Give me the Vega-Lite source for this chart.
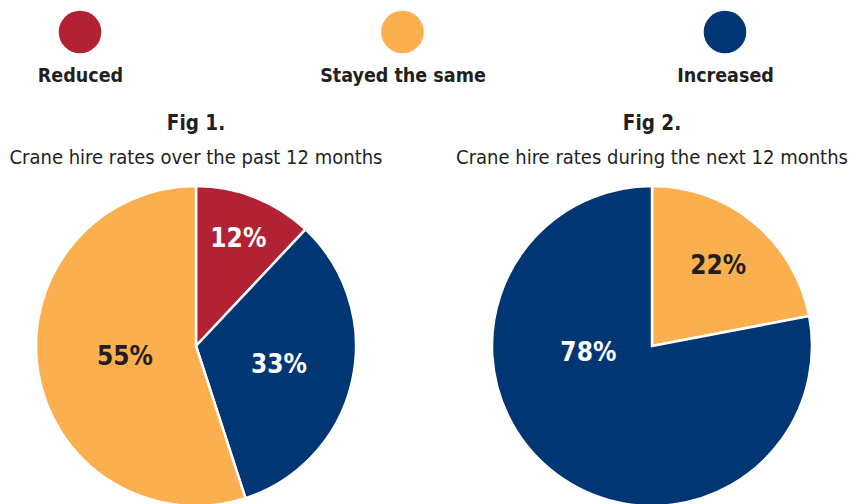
{
  "$schema": "https://vega.github.io/schema/vega-lite/v6.json",
  "padding": {"left": 5, "top": 5, "right": 5, "bottom": 0},
  "background": "white",
  "config": {
    "view": {"stroke": null},
    "font": "Liberation Sans Narrow, DejaVu Sans Condensed, Roboto Condensed, Roboto, sans-serif",
    "title": {"anchor": "middle", "font": "Liberation Sans Narrow, DejaVu Sans Condensed, Roboto Condensed, Roboto, sans-serif", "subtitleFont": "Liberation Sans Narrow, DejaVu Sans Condensed, Roboto Condensed, Roboto, sans-serif", "fontSize": 20.5, "fontWeight": "bold", "color": "#231f20", "subtitleFontSize": 20, "subtitleColor": "#231f20", "subtitlePadding": 14, "offset": 13, "limit": 0}
  },
  "datasets": {
    "legend": [{"k": "Reduced"}, {"k": "Stayed the same"}, {"k": "Increased"}],
    "fig1": [
      {"k": "Reduced", "v": 12, "o": 1, "lbl": "12%"},
      {"k": "Increased", "v": 33, "o": 2, "lbl": "33%"},
      {"k": "Stayed the same", "v": 55, "o": 3, "lbl": "55%"}
    ],
    "fig2": [
      {"k": "Stayed the same", "v": 22, "o": 1, "lbl": "22%"},
      {"k": "Increased", "v": 78, "o": 2, "lbl": "78%"}
    ]
  },
  "vconcat": [
    {
      "width": 795,
      "height": 54,
      "data": {"name": "legend"},
      "mark": {"type": "point", "filled": true, "opacity": 1, "size": 1810, "shape": "circle"},
      "encoding": {
        "x": {"field": "k", "type": "nominal", "sort": null, "scale": {"type": "point", "padding": 0.2326},
          "axis": {"title": null, "domain": false, "ticks": false, "labelFontSize": 19.5, "labelFontWeight": "bold", "labelColor": "#231f20", "labelPadding": 7, "labelAngle": 0, "labelLimit": 400, "labelOverlap": false, "labelFont": "Liberation Sans Narrow, DejaVu Sans Condensed, Roboto Condensed, Roboto, sans-serif"}},
        "color": {"field": "k", "type": "nominal", "scale": {"domain": ["Reduced", "Stayed the same", "Increased"], "range": ["#B22234", "#FBAF4F", "#003673"]}, "legend": null}
      }
    },
    {
      "spacing": 74,
      "bounds": "flush",
      "hconcat": [
        {
          "width": 382,
          "height": 318,
          "title": {"text": "Fig 1.", "subtitle": "Crane hire rates over the past 12 months"},
          "data": {"name": "fig1"},
          "layer": [
            {
              "mark": {"type": "arc", "outerRadius": 160, "stroke": "white", "strokeWidth": 2.5},
              "encoding": {
                "theta": {"field": "v", "type": "quantitative", "stack": true},
                "order": {"field": "o", "type": "quantitative"},
                "color": {"field": "k", "type": "nominal", "scale": {"domain": ["Reduced", "Stayed the same", "Increased"], "range": ["#B22234", "#FBAF4F", "#003673"]}, "legend": null}
              }
            },
            {
              "mark": {"type": "text", "fontSize": 26, "fontWeight": "bold"},
              "encoding": {
                "theta": {"field": "v", "type": "quantitative", "stack": true},
                "order": {"field": "o", "type": "quantitative"},
                "radius": {"value": {"expr": "datum.k === 'Reduced' ? 115 : datum.k === 'Increased' ? 85 : 72"}},
                "text": {"field": "lbl"},
                "color": {"condition": {"test": "datum.k === 'Stayed the same'", "value": "#231f20"}, "value": "white"}
              }
            }
          ]
        },
        {
          "width": 382,
          "height": 318,
          "title": {"text": "Fig 2.", "subtitle": "Crane hire rates during the next 12 months"},
          "data": {"name": "fig2"},
          "layer": [
            {
              "mark": {"type": "arc", "outerRadius": 160, "stroke": "white", "strokeWidth": 2.5},
              "encoding": {
                "theta": {"field": "v", "type": "quantitative", "stack": true},
                "order": {"field": "o", "type": "quantitative"},
                "color": {"field": "k", "type": "nominal", "scale": {"domain": ["Reduced", "Stayed the same", "Increased"], "range": ["#B22234", "#FBAF4F", "#003673"]}, "legend": null}
              }
            },
            {
              "mark": {"type": "text", "fontSize": 26, "fontWeight": "bold", "radius": 104},
              "encoding": {
                "theta": {"field": "v", "type": "quantitative", "stack": true},
                "order": {"field": "o", "type": "quantitative"},
                "text": {"condition": {"test": "datum.k === 'Increased'", "value": ""}, "field": "lbl"},
                "color": {"value": "#231f20"}
              }
            },
            {
              "transform": [{"filter": "datum.k === 'Increased'"}],
              "mark": {"type": "text", "fontSize": 26, "fontWeight": "bold", "theta": 4.607, "radius": 64, "color": "white"},
              "encoding": {
                "text": {"field": "lbl"}
              }
            }
          ]
        }
      ]
    }
  ],
  "spacing": 28
}
